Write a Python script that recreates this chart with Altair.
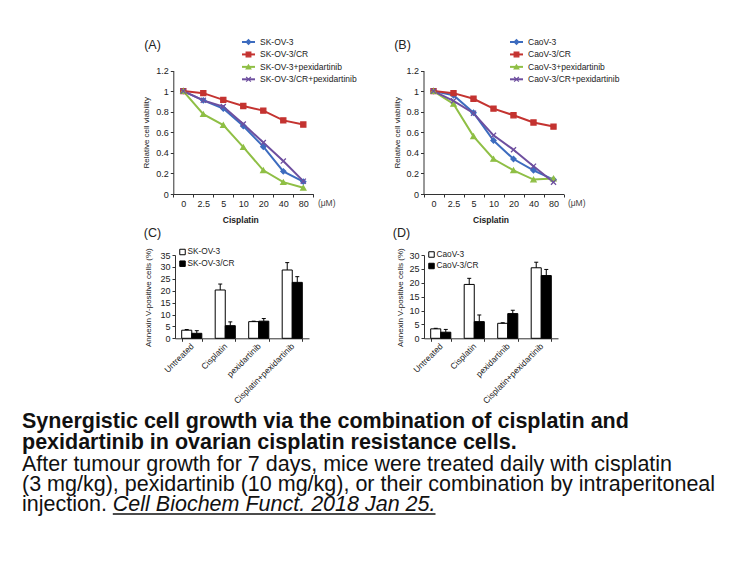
import altair as alt
import pandas as pd

W, H = 756, 567

# ---------------- data ----------------
conc = ["0", "2.5", "5", "10", "20", "40", "80"]

a_series = ["SK-OV-3", "SK-OV-3/CR", "SK-OV-3+pexidartinib", "SK-OV-3/CR+pexidartinib"]
a_skov3 = [1.00, 0.91, 0.83, 0.66, 0.46, 0.22, 0.12]
a_skov3_cr = [1.00, 0.98, 0.915, 0.855, 0.81, 0.715, 0.675]
a_skov3_pex = [1.00, 0.775, 0.67, 0.455, 0.23, 0.115, 0.06]
a_skov3_cr_pex = [1.00, 0.91, 0.85, 0.68, 0.50, 0.32, 0.125]

b_series = ["CaoV-3", "CaoV-3/CR", "CaoV-3+pexidartinib", "CaoV-3/CR+pexidartinib"]
b_caov3 = [1.00, 0.96, 0.79, 0.52, 0.34, 0.23, 0.14]
b_caov3_cr = [1.00, 0.98, 0.925, 0.83, 0.765, 0.695, 0.655]
b_caov3_pex = [1.00, 0.875, 0.56, 0.34, 0.23, 0.14, 0.15]
b_caov3_cr_pex = [1.00, 0.905, 0.785, 0.57, 0.43, 0.27, 0.115]

treatments = ["Untreated", "Cisplatin", "pexidartinib", "Cisplatin+pexidartinib"]

c_groups = ["SK-OV-3", "SK-OV-3/CR"]
c_skov3 = [3.4, 20.3, 7.0, 28.7]
c_skov3_err = [0.3, 2.5, 0.2, 3.1]
c_skov3_cr = [2.1, 5.3, 7.2, 23.5]
c_skov3_cr_err = [1.1, 1.6, 1.1, 2.4]

d_groups = ["CaoV-3", "CaoV-3/CR"]
d_caov3 = [3.4, 19.4, 5.4, 25.4]
d_caov3_err = [0.2, 2.2, 0.2, 2.0]
d_caov3_cr = [2.2, 6.0, 8.9, 22.6]
d_caov3_cr_err = [1.0, 2.4, 1.2, 2.2]

caption_bold = [
    "Synergistic cell growth via the combination of cisplatin and",
    "pexidartinib in ovarian cisplatin resistance cells.",
]
caption_body = [
    "After tumour growth for 7 days, mice were treated daily with cisplatin",
    "(3 mg/kg), pexidartinib (10 mg/kg), or their combination by intraperitoneal",
]
caption_last = "injection."
caption_cite = "Cell Biochem Funct. 2018 Jan 25."

# ---------------- style ----------------
SANS = "Liberation Sans, Arial, sans-serif"
INK = "#222222"
AX = "#333333"
line_colors = ["#3d6cbf", "#c43330", "#8fbf45", "#6e4f9f"]
X_PATH = "M-1,-1L1,1M-1,1L1,-1"
line_shapes = ["diamond", "square", "triangle-up", X_PATH]


def axis(**kw):
    base = dict(grid=False, domainColor=AX, domainWidth=1, tickColor=AX, tickWidth=1,
                tickSize=3, labelFont=SANS, labelFontSize=9, labelColor=INK,
                labelPadding=2, titleFont=SANS, titleColor=INK, labelOverlap=False)
    base.update(kw)
    return alt.Axis(**base)


def text_at(txt, x, y, size=9, font=SANS, weight="normal", align="left",
            style="normal", color=INK):
    return alt.Chart(pd.DataFrame({"t": [txt]})).mark_text(
        align=align, baseline="middle", font=font, fontSize=size,
        fontWeight=weight, fontStyle=style, color=color
    ).encode(text="t:N", x=alt.value(x), y=alt.value(y))


def line_panel(series, cols, x0, letter, letter_x, legend_x, unit_x):
    rows = []
    for s, vals in zip(series, cols):
        for c, v in zip(conc, vals):
            rows.append({"series": s, "conc": c, "value": v})
    df = pd.DataFrame(rows)
    y0, y1 = 194.0, 70.5

    def xs():
        return alt.Scale(type="band", domain=conc, range=[x0, x0 + 140],
                         paddingInner=0, paddingOuter=0)

    def ys():
        return alt.Scale(domain=[0, 1.2], range=[y0, y1])

    def cs():
        return alt.Scale(domain=series, range=line_colors)

    xaxis = axis(orient="bottom", offset=-(H - y0), tickBand="extent", labelAngle=0,
                 title="Cisplatin", titleFontSize=8.5,
                 titleFontWeight="bold", titleX=x0 + 67, titleY=25,
                 titleAlign="center", titleBaseline="middle")
    yaxis = axis(orient="left", offset=-x0, values=[0, 0.2, 0.4, 0.6, 0.8, 1, 1.2],
                 format=".1~f", title="Relative cell viability", titleFontSize=8,
                 titleFontWeight="normal", titleAngle=270, titleX=-26.5,
                 titleY=(y0 + y1) / 2, titleAlign="center", titleBaseline="middle")

    lines = alt.Chart(df).mark_line(strokeWidth=2).encode(
        x=alt.X("conc:N", sort=conc, scale=xs(), axis=xaxis),
        y=alt.Y("value:Q", scale=ys(), axis=yaxis),
        color=alt.Color("series:N", scale=cs(), legend=None),
    )
    pts = alt.Chart(df).mark_point(filled=True, size=26, opacity=1, strokeWidth=1.3).encode(
        x=alt.X("conc:N", sort=conc, scale=xs(), axis=None),
        y=alt.Y("value:Q", scale=ys(), axis=None),
        fill=alt.Fill("series:N", scale=cs(), legend=None),
        stroke=alt.Stroke("series:N", scale=cs(), legend=None),
        shape=alt.Shape("series:N", scale=alt.Scale(domain=series, range=line_shapes), legend=None),
    )

    ldf = pd.DataFrame({"series": series})

    def ly():
        return alt.Scale(type="point", domain=series, range=[42, 79.3], padding=0)

    leg_rule = alt.Chart(ldf).mark_rule(strokeWidth=2).encode(
        x=alt.value(legend_x), x2=alt.value(legend_x + 13),
        y=alt.Y("series:N", scale=ly(), axis=None),
        color=alt.Color("series:N", scale=cs(), legend=None),
    )
    leg_pt = alt.Chart(ldf).mark_point(filled=True, size=22, opacity=1, strokeWidth=1.2).encode(
        x=alt.value(legend_x + 6.5),
        y=alt.Y("series:N", scale=ly(), axis=None),
        fill=alt.Fill("series:N", scale=cs(), legend=None),
        stroke=alt.Stroke("series:N", scale=cs(), legend=None),
        shape=alt.Shape("series:N", scale=alt.Scale(domain=series, range=line_shapes), legend=None),
    )
    leg_txt = alt.Chart(ldf).mark_text(align="left", baseline="middle", font=SANS,
                                       fontSize=8.5, color=INK).encode(
        x=alt.value(legend_x + 18),
        y=alt.Y("series:N", scale=ly(), axis=None),
        text="series:N",
    )
    return [lines, pts, leg_rule, leg_pt, leg_txt,
            text_at(letter, letter_x, 44.5, size=12.5, align="center"),
            text_at("(\u03bcM)", unit_x, 203, size=8.5, align="center", color="#444444")]


def bar_panel(groups, v1, e1, v2, e2, x0, ymax, letter, letter_x, legend_x, legend_y, title_x):
    rows = []
    for g, vals, errs in ((groups[0], v1, e1), (groups[1], v2, e2)):
        for t, v, e in zip(treatments, vals, errs):
            rows.append({"treatment": t, "group": g, "value": v, "top": v + e})
    df = pd.DataFrame(rows)
    y0, y1 = 338.3, 255.0

    def xs():
        return alt.Scale(type="band", domain=treatments, range=[x0, x0 + 134],
                         paddingInner=0.4, paddingOuter=0.2)

    def ys():
        return alt.Scale(domain=[0, ymax], range=[y0, y1])

    def os():
        return alt.Scale(domain=groups)

    def fs():
        return alt.Scale(domain=groups, range=["white", "black"])

    xaxis = axis(orient="bottom", offset=-(H - y0), tickBand="extent", labelAngle=315,
                 labelAlign="right", labelBaseline="middle",
                 labelFontSize=8.5, labelPadding=3, title=None)
    yaxis = axis(orient="left", offset=-x0, values=list(range(0, ymax + 1, 5)),
                 title="Annexin V-positive cells (%)", titleFontSize=8,
                 titleFontWeight="normal", titleAngle=270, titleX=title_x,
                 titleY=(y0 + y1) / 2 + 0.5, titleAlign="center", titleBaseline="middle")

    bars = alt.Chart(df).mark_bar(stroke="black", strokeWidth=1).encode(
        x=alt.X("treatment:N", sort=treatments, scale=xs(), axis=xaxis),
        xOffset=alt.XOffset("group:N", sort=groups, scale=os()),
        y=alt.Y("value:Q", scale=ys(), axis=yaxis),
        fill=alt.Fill("group:N", scale=fs(), legend=None),
    )
    err = alt.Chart(df).mark_rule(color="black", strokeWidth=1).encode(
        x=alt.X("treatment:N", sort=treatments, scale=xs(), axis=None),
        xOffset=alt.XOffset("group:N", sort=groups, scale=os()),
        y=alt.Y("value:Q", scale=ys(), axis=None),
        y2="top:Q",
    )
    cap = alt.Chart(df).mark_tick(color="black", thickness=1, size=4, opacity=1).encode(
        x=alt.X("treatment:N", sort=treatments, scale=xs(), axis=None),
        xOffset=alt.XOffset("group:N", sort=groups, scale=os()),
        y=alt.Y("top:Q", scale=ys(), axis=None),
    )
    ldf = pd.DataFrame({"group": groups})

    def ly():
        return alt.Scale(type="point", domain=groups, range=legend_y, padding=0)

    leg_sq = alt.Chart(ldf).mark_point(shape="square", filled=True, size=30, opacity=1,
                                       stroke="black", strokeWidth=1).encode(
        x=alt.value(legend_x),
        y=alt.Y("group:N", scale=ly(), axis=None),
        fill=alt.Fill("group:N", scale=fs(), legend=None),
    )
    leg_txt = alt.Chart(ldf).mark_text(align="left", baseline="middle", font=SANS,
                                       fontSize=8.3, color=INK).encode(
        x=alt.value(legend_x + 5),
        y=alt.Y("group:N", scale=ly(), axis=None),
        text="group:N",
    )
    return [bars, err, cap, leg_sq, leg_txt,
            text_at(letter, letter_x, 233, size=12.5, align="center")]


layers = []
layers += line_panel(a_series, [a_skov3, a_skov3_cr, a_skov3_pex, a_skov3_cr_pex],
                     173.3, "(A)", 152.5, 242, 326.7)
layers += line_panel(b_series, [b_caov3, b_caov3_cr, b_caov3_pex, b_caov3_cr_pex],
                     423.5, "(B)", 402.5, 510, 576.7)
layers += bar_panel(c_groups, c_skov3, c_skov3_err, c_skov3_cr, c_skov3_cr_err,
                    175, 35, "(C)", 152.5, 182.5, [252, 263.7], -26.7)
layers += bar_panel(d_groups, d_caov3, d_caov3_err, d_caov3_cr, d_caov3_cr_err,
                    424, 30, "(D)", 401.5, 431.5, [254.5, 266], -23.5)

# caption
CAP = 21.5
baselines = [428, 449, 470.5, 491, 511]
for i, t in enumerate(caption_bold):
    layers.append(text_at(t, 22, baselines[i] - 6, size=CAP, weight="bold", color="#111111"))
for i, t in enumerate(caption_body):
    layers.append(text_at(t, 22, baselines[2 + i] - 6, size=CAP, color="#111111"))
layers.append(text_at(caption_last, 22, baselines[4] - 6, size=CAP, color="#111111"))
layers.append(text_at(caption_cite, 112.8, baselines[4] - 6, size=CAP, style="italic",
                      color="#111111"))
layers.append(alt.Chart(pd.DataFrame({"t": [caption_cite]})).mark_rule(
    color="#111111", strokeWidth=1.3).encode(
    x=alt.value(112.8), x2=alt.value(435.5), y=alt.value(baselines[4] + 3)))

chart = alt.layer(*layers).resolve_scale(
    x="independent", y="independent", color="independent", fill="independent",
    stroke="independent", shape="independent", xOffset="independent"
).resolve_axis(x="independent", y="independent").properties(
    width=W, height=H, autosize=alt.AutoSizeParams(type="none"), padding=0,
    background="white"
).configure_view(strokeWidth=0)

chart.save("out.html", embed_options={"renderer": "svg", "actions": False})
